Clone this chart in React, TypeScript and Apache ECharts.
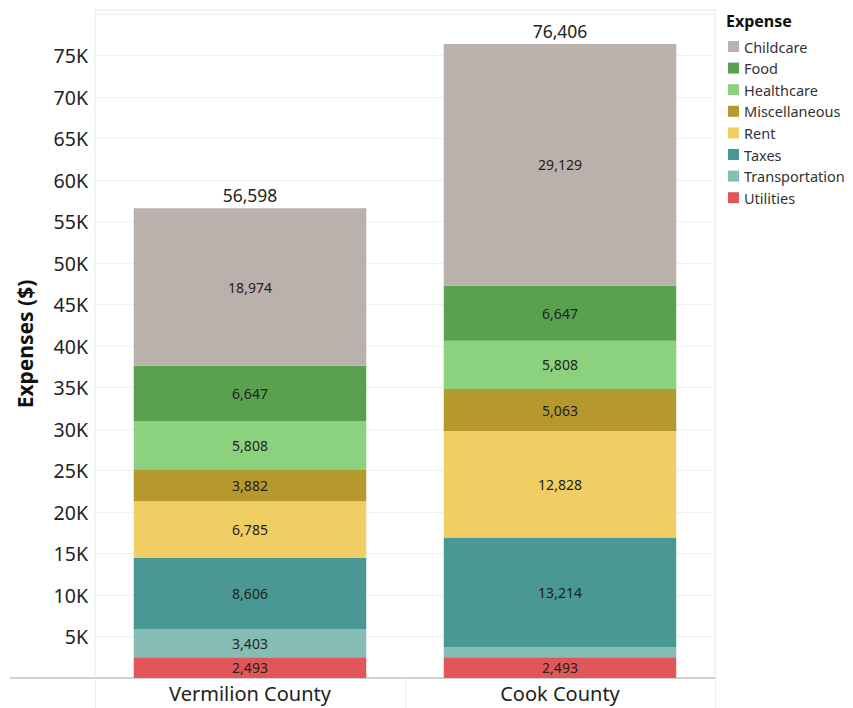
import React, { useEffect, useRef } from "react";
import * as echarts from "echarts";

// Household expenses by county, stacked by expense type
const categories = ["Vermilion County", "Cook County"];

const utilities = [2493, 2493];
const transportation = [3403, 1224];
const taxes = [8606, 13214];
const rent = [6785, 12828];
const miscellaneous = [3882, 5063];
const healthcare = [5808, 5808];
const food = [6647, 6647];
const childcare = [18974, 29129];

const yTicks = [5000, 10000, 15000, 20000, 25000, 30000, 35000, 40000, 45000, 50000, 55000, 60000, 65000, 70000, 75000];

// Stack order, bottom to top
const stackSeries = [
  { name: "Utilities", data: utilities, color: "#e15759" },
  { name: "Transportation", data: transportation, color: "#86bcb6" },
  { name: "Taxes", data: taxes, color: "#499894" },
  { name: "Rent", data: rent, color: "#f1ce63" },
  { name: "Miscellaneous", data: miscellaneous, color: "#b6992d" },
  { name: "Healthcare", data: healthcare, color: "#8cd17d" },
  { name: "Food", data: food, color: "#59a14f" },
  { name: "Childcare", data: childcare, color: "#bab0ac" },
];

const legendOrder = ["Childcare", "Food", "Healthcare", "Miscellaneous", "Rent", "Taxes", "Transportation", "Utilities"];

const FONT = "'Noto Sans', 'Open Sans', sans-serif";

const fmt = (v: number) => v.toLocaleString("en-US");

export default function App() {
  const ref = useRef<HTMLDivElement>(null);

  useEffect(() => {
    if (!ref.current) return;
    const chart = echarts.init(ref.current, undefined, { renderer: "svg" });

    const totals = categories.map((_, i) => stackSeries.reduce((s, se) => s + se.data[i], 0));

    const series: any[] = stackSeries.map((s) => ({
      name: s.name,
      type: "bar",
      stack: "total",
      barCategoryGap: "25%",
      data: s.data,
      itemStyle: { color: s.color },
      emphasis: { disabled: true },
      label: {
        show: true,
        position: "inside",
        fontFamily: FONT,
        fontSize: 14,
        color: "#222",
        formatter: (p: any) => (p.value < 2000 ? "" : fmt(p.value)),
      },
    }));

    // Zero-height cap carrying the stack totals
    series.push({
      name: "__total",
      type: "bar",
      stack: "total",
      barCategoryGap: "25%",
      data: categories.map(() => 0),
      itemStyle: { color: "transparent" },
      emphasis: { disabled: true },
      label: {
        show: true,
        position: "top",
        distance: 4,
        fontFamily: FONT,
        fontSize: 17.5,
        color: "#222",
        formatter: (p: any) => fmt(totals[p.dataIndex]),
      },
    });

    chart.setOption({
      animation: false,
      textStyle: { fontFamily: FONT },
      grid: {
        left: 95,
        right: 138,
        top: 10,
        bottom: 30,
        show: true,
        borderColor: "#e8e8e8",
        borderWidth: 1,
      },
      legend: {
        data: legendOrder,
        orient: "vertical",
        left: 723,
        top: 34,
        icon: "rect",
        itemWidth: 11,
        itemHeight: 11,
        itemGap: 6.6,
        selectedMode: false,
        textStyle: { fontFamily: FONT, fontSize: 14.5, color: "#333", lineHeight: 15 },
      },
      xAxis: {
        type: "category",
        data: categories,
        axisLine: { show: true, lineStyle: { color: "#d0d0d0", width: 2 } },
        axisTick: { show: true, interval: 0, length: 30, lineStyle: { color: "#eeeeee" } },
        axisLabel: { fontFamily: FONT, fontSize: 20, color: "#222", margin: 5 },
      },
      yAxis: {
        type: "value",
        min: 0,
        max: 80500,
        interval: 5000,
        name: "Expenses ($)",
        nameLocation: "middle",
        nameRotate: 90,
        nameGap: 60,
        nameTextStyle: { fontFamily: FONT, fontSize: 21, fontWeight: "bold", color: "#111" },
        axisLine: { show: false },
        axisTick: { show: false },
        splitLine: { show: true, lineStyle: { color: "#f0f0f0" } },
        axisLabel: {
          fontFamily: FONT,
          fontSize: 19.5,
          color: "#222",
          margin: 7,
          formatter: (v: number) => (yTicks.includes(v) ? `${v / 1000}K` : ""),
        },
      },
      graphic: [
        {
          type: "text",
          left: 726,
          top: 13,
          style: { text: "Expense", fontFamily: FONT, fontSize: 16, fontWeight: "bold", fill: "#111" },
        },
        {
          type: "line",
          shape: { x1: 10, y1: 678, x2: 95, y2: 678 },
          style: { stroke: "#d0d0d0", lineWidth: 2 },
        },
      ],
      series,
    });

    return () => chart.dispose();
  }, []);

  return (
    <div
      ref={ref}
      style={{ position: "fixed", left: 0, top: 0, width: 853, height: 708, background: "#fff" }}
    />
  );
}
